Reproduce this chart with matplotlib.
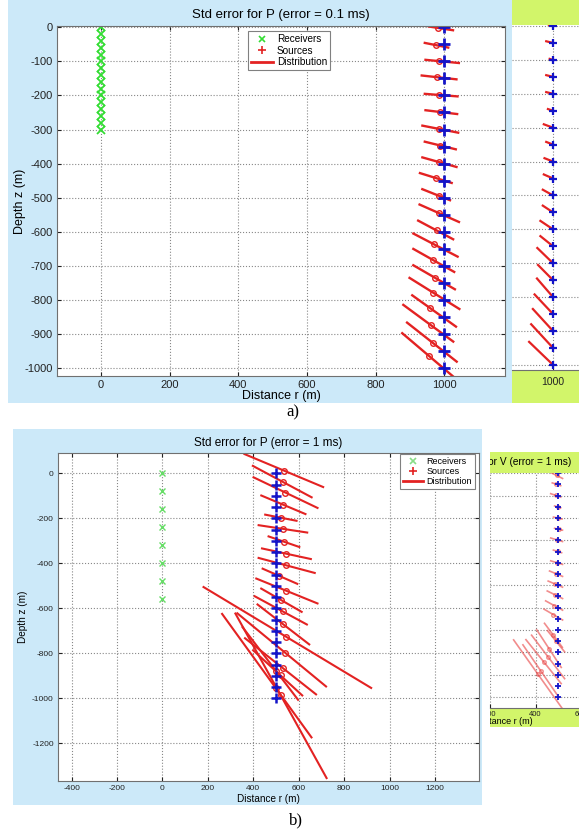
import matplotlib
matplotlib.use("Agg")
import matplotlib.pyplot as plt
from matplotlib.lines import Line2D
from matplotlib.patches import Rectangle
from matplotlib.transforms import Bbox, TransformedBbox
import numpy as np

plt.rcParams['font.family'] = ['Liberation Sans', 'DejaVu Sans']
plt.rcParams['axes.unicode_minus'] = False

# ---- panel a) : error = 0.1 ms ----
recv_a_z = [0, -20, -40, -60, -80, -100, -120, -140, -160, -180, -200,
            -220, -240, -260, -280, -300]
src_z = [0, -50, -100, -150, -200, -250, -300, -350, -400, -450, -500,
         -550, -600, -650, -700, -750, -800, -850, -900, -950, -1000]
a_x1 = [952, 940, 942, 931, 940, 942, 933, 940, 933, 926, 933,
        925, 921, 907, 907, 907, 896, 904, 878, 889, 875]
a_z1 = [3, -45, -95, -141, -195, -243, -288, -335, -381, -427, -474,
        -519, -566, -604, -649, -697, -734, -785, -813, -865, -896]
a_x2 = [1029, 1015, 1046, 1039, 1042, 1041, 1044, 1037, 1039, 1025, 1020,
        1046, 1029, 1042, 1032, 1034, 1047, 1037, 1029, 1039, 1029]
a_z2 = [-9, -60, -105, -153, -203, -255, -310, -359, -411, -458, -509,
        -573, -624, -675, -720, -771, -829, -881, -925, -984, -1028]
a_mean_x = [981, 976, 984, 979, 986, 989, 984, 989, 986, 976, 984,
            984, 978, 971, 967, 974, 968, 959, 962, 967, 955]

# side view of panel a (cropped neighbour plot)
ia_x = [988, 980, 990, 980, 980, 985, 973, 980, 975, 973, 970,
        970, 963, 963, 954, 956, 953, 946, 941, 936, 930]
ia_z = [3, -45, -97, -145, -195, -245, -290, -342, -390, -438, -483,
        -530, -575, -620, -655, -705, -745, -792, -835, -880, -932]

# ---- panel b) : error = 1 ms ----
recv_b_z = [0, -80, -160, -240, -320, -400, -480, -560]
b_x1 = [357, 394, 397, 431, 448, 419, 463, 434, 419, 437, 409, 431, 402, 415,
        177, 319, 260, 326, 360, 396, 350]
b_z1 = [87, 35, -16, -97, -183, -230, -279, -333, -375, -422, -466, -510, -544, -580,
        -503, -619, -621, -619, -730, -783, -680]
b_x2 = [712, 661, 687, 634, 595, 642, 607, 658, 675, 598, 687, 617, 640, 650,
        923, 725, 659, 724, 680, 619, 600]
b_z2 = [-63, -109, -156, -183, -212, -264, -329, -382, -444, -493, -580, -618, -674, -763,
        -956, -1358, -1177, -950, -985, -990, -1010]
b_mean_x = [536, 529, 541, 532, 522, 529, 536, 544, 544, 514, 544, 522, 530, 530,
            545, 520, 500, 540, 530, 520, 500]

# side view of panel b (cropped neighbour plot)
ib_x1 = [463, 470, 463, 480, 475, 480, 463, 475, 463, 458, 452, 448, 441, 434,
         437, 403, 355, 342, 301, 380, 450]
ib_z1 = [5, -42, -90, -145, -195, -245, -288, -342, -390, -435, -480, -524, -568, -605,
         -667, -696, -740, -763, -741, -720, -700]
ib_x2 = [522, 514, 514, 514, 520, 522, 522, 518, 522, 522, 522, 522, 522, 522,
         520, 515, 515, 505, 520, 530, 530]
ib_z2 = [-25, -57, -108, -155, -205, -255, -306, -356, -408, -462, -510, -561, -613, -657,
         -780, -870, -942, -1004, -1054, -920, -800]

W, H = 579, 833
fig = plt.figure(figsize=(W / 100, H / 100), dpi=100)


def box(x0, y0, x1, y1):
    return [x0 / W, 1 - y1 / H, (x1 - x0) / W, (y1 - y0) / H]


def rect(x0, y0, x1, y1, color):
    l, b, w, h = box(x0, y0, x1, y1)
    fig.patches.append(Rectangle((l, b), w, h, transform=fig.transFigure,
                                 facecolor=color, edgecolor='none', zorder=-5))


BLUE_BG = '#cce9f9'
LIME = '#d2f56a'
RED = '#e32222'
SRC = '#1414c8'

rect(8, 0, 512, 403, BLUE_BG)
rect(13, 429, 482, 805, BLUE_BG)
rect(512, 0, 579, 25, LIME)
rect(512, 370, 579, 403, LIME)
rect(490, 452, 579, 473, LIME)
rect(490, 708, 579, 727, LIME)


def style(ax, fs):
    ax.grid(True, linestyle=':', color='#888888', linewidth=0.8)
    ax.tick_params(direction='in', length=3, top=True, right=True,
                   labelsize=fs, colors='#222222', pad=3)
    for s in ax.spines.values():
        s.set_color('#707070')


def draw_dist(ax, x1, z1, x2, z2, mx, lw, ms, alpha=1.0, color=RED):
    for i in range(len(x1)):
        ax.plot([x1[i], x2[i]], [z1[i], z2[i]], color=color, lw=lw, alpha=alpha,
                solid_capstyle='butt')
        mz = z1[i] + (mx[i] - x1[i]) / (x2[i] - x1[i]) * (z2[i] - z1[i])
        ax.plot(mx[i], mz, 'o', mfc='none', mec=color, ms=ms, mew=1, alpha=alpha)


def legend(ax, fs, anchor, loc, gcol):
    h = [Line2D([], [], ls='none', marker='x', color=gcol, ms=5, mew=1.2),
         Line2D([], [], ls='none', marker='+', color=RED, ms=6, mew=1.2),
         Line2D([], [], color=RED, lw=2)]
    lg = ax.legend(h, ['Receivers', 'Sources', 'Distribution'], loc=loc,
                   bbox_to_anchor=anchor, fontsize=fs, fancybox=False,
                   edgecolor='#808080', borderpad=0.3, labelspacing=0.15,
                   handlelength=2.2, handletextpad=0.4, borderaxespad=0,
                   framealpha=1)
    lg.get_frame().set_linewidth(0.8)


# ---------------- panel a ----------------
ax_a = fig.add_axes(box(57, 26, 505, 376))
ax_a.plot([0] * len(recv_a_z), recv_a_z, 'x', color='#33dd33', ms=6, mew=1.3)
draw_dist(ax_a, a_x1, a_z1, a_x2, a_z2, a_mean_x, 1.7, 4)
ax_a.plot([1000] * len(src_z), src_z, '+', color=SRC, ms=8, mew=2)
ax_a.set_xlim(-128, 1177)
ax_a.set_ylim(-1024, 4)
ax_a.set_xticks([0, 200, 400, 600, 800, 1000])
ax_a.set_yticks([0, -100, -200, -300, -400, -500, -600, -700, -800, -900, -1000])
style(ax_a, 8)
ax_a.set_title('Std error for P (error = 0.1 ms)', fontsize=9.5, pad=6)
ax_a.set_xlabel('Distance r (m)', fontsize=9, labelpad=0)
ax_a.set_ylabel('Depth z (m)', fontsize=9, labelpad=-1)
legend(ax_a, 7.2, (0.426, 0.985), 'upper left', '#33dd33')

ax_ai = fig.add_axes(box(512, 25, 640, 370))
ax_ai.plot([[1000] * len(src_z), ia_x], [src_z, ia_z], color=RED, lw=1.6)
ax_ai.plot([1000] * len(src_z), src_z, '+', color=SRC, ms=6, mew=1.6)
ax_ai.set_xlim(880, 1254)
ax_ai.set_ylim(-1015, 3)
ax_ai.set_xticks([1000])
ax_ai.set_yticks([0, -100, -200, -300, -400, -500, -600, -700, -800, -900, -1000])
style(ax_ai, 7.5)
ax_ai.tick_params(labelleft=False, left=False, right=False, top=False, pad=5)
for s in ['left', 'right', 'top']:
    ax_ai.spines[s].set_visible(False)

# ---------------- panel b ----------------
ax_b = fig.add_axes(box(58, 453, 479, 781))
ax_b.plot([0] * len(recv_b_z), recv_b_z, 'x', color='#66dd66', ms=4, mew=1)
draw_dist(ax_b, b_x1, b_z1, b_x2, b_z2, b_mean_x, 1.5, 4)
ax_b.plot([500] * len(src_z), src_z, '+', color=SRC, ms=7, mew=1.8)
ax_b.set_xlim(-460, 1394)
ax_b.set_ylim(-1367, 90)
ax_b.set_xticks([-400, -200, 0, 200, 400, 600, 800, 1000, 1200])
ax_b.set_yticks([0, -200, -400, -600, -800, -1000, -1200])
style(ax_b, 6)
ax_b.set_title('Std error for P (error = 1 ms)', fontsize=8.5, pad=5)
ax_b.set_xlabel('Distance r (m)', fontsize=7.2, labelpad=1)
ax_b.set_ylabel('Depth z (m)', fontsize=7.2, labelpad=3)
legend(ax_b, 6.5, (0.99, 0.997), 'upper right', '#88dd88')

ax_bi = fig.add_axes(box(490, 473, 640, 708))
draw_dist(ax_bi, ib_x1, ib_z1, ib_x2, ib_z2,
          [(ib_x1[i] + ib_x2[i]) / 2 for i in range(len(ib_x1))], 1.2, 2.5,
          alpha=0.6, color='#e84040')
ax_bi.plot([500] * len(src_z), src_z, '+', color=SRC, ms=4.5, mew=1.3)
ax_bi.set_xlim(199, 860)
ax_bi.set_ylim(-1048, 1)
ax_bi.set_xticks([200, 400, 600, 800])
ax_bi.set_yticks([0, -100, -200, -300, -400, -500, -600, -700, -800, -900, -1000])
style(ax_bi, 5.5)
ax_bi.tick_params(labelleft=False, left=False, right=False, top=False, pad=2)
for s in ['left', 'right', 'top']:
    ax_bi.spines[s].set_visible(False)

# the neighbour plot is cut off at its left side in the source picture
clip_b = TransformedBbox(Bbox.from_extents(490 / W, 1 - 727 / H, 1, 1 - 452 / H),
                         fig.transFigure)
for t in ax_bi.xaxis.get_major_ticks():
    t.label1.set_clip_box(clip_b)
    t.label1.set_clip_on(True)
fig.text(443 / W, 1 - 462 / H, 'Std error for V (error = 1 ms)', fontsize=7.3,
         ha='left', va='center', clip_box=clip_b, clip_on=True)
fig.text(476 / W, 1 - 722 / H, 'Distance r (m)', fontsize=6.5,
         ha='left', va='center', clip_box=clip_b, clip_on=True)

# panel captions
fig.text(293 / W, 1 - 412 / H, 'a)', fontsize=12, family='Liberation Serif',
         ha='center', va='center')
fig.text(296 / W, 1 - 820 / H, 'b)', fontsize=12, family='Liberation Serif',
         ha='center', va='center')

fig.savefig('out.png', dpi=100)
